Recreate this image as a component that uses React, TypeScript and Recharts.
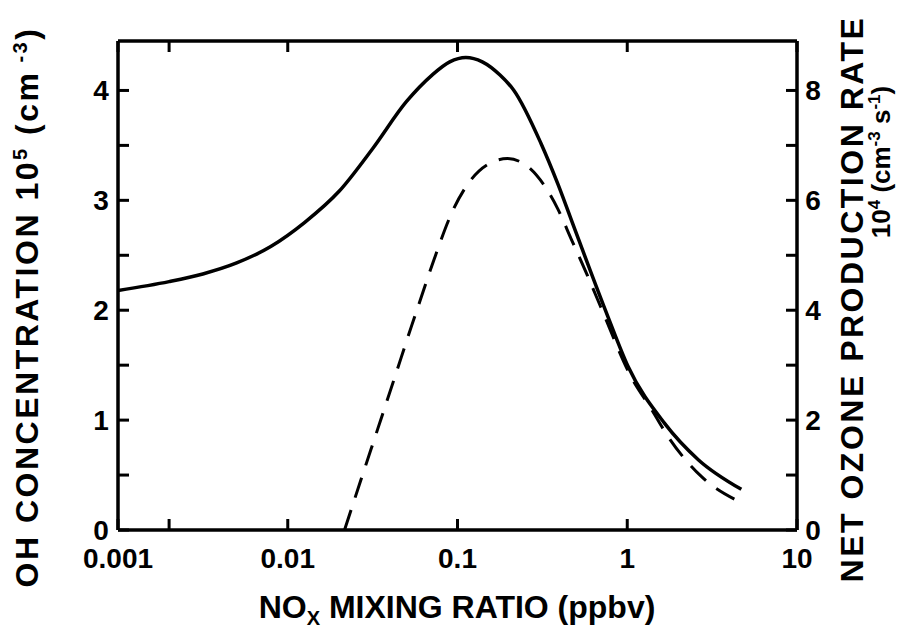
import React from 'react';
import { LineChart, Line, XAxis, YAxis } from 'recharts';

// OH concentration (left axis, 10^5 cm^-3) vs NOx mixing ratio (ppbv)
const ohNox = [0.001, 0.002, 0.00316, 0.005, 0.00794, 0.0126, 0.02, 0.0316, 0.0501, 0.0708, 0.09, 0.112, 0.14, 0.178, 0.215, 0.31, 0.39, 0.49, 0.77, 1.01, 1.66, 2.62, 4.7];
const ohConc = [2.18, 2.26, 2.33, 2.43, 2.58, 2.8, 3.08, 3.47, 3.9, 4.14, 4.26, 4.3, 4.26, 4.14, 4.0, 3.52, 3.15, 2.74, 1.94, 1.49, 0.97, 0.64, 0.37];

// net ozone production rate (right axis, 10^4 cm^-3 s^-1)
const o3Nox = [0.0216, 0.0269, 0.0339, 0.0427, 0.0537, 0.0603, 0.0725, 0.095, 0.114, 0.15, 0.197, 0.258, 0.339, 0.389, 0.467, 0.585, 0.7, 1.057, 1.387, 1.74, 2.74, 4.6];
const o3Rate = [0, 0.9, 1.84, 2.78, 3.72, 4.18, 4.91, 5.85, 6.28, 6.65, 6.76, 6.62, 6.18, 5.85, 5.3, 4.62, 4.05, 2.78, 2.2, 1.7, 0.97, 0.51];

const xTicks = [0.001, 0.002, 0.01, 0.1, 1, 10];
const xTickText = ['0.001', '', '0.01', '0.1', '1', '10'];
const leftTicks = [0, 0.5, 1, 1.5, 2, 2.5, 3, 3.5, 4];
const leftTickText = ['0', '', '1', '', '2', '', '3', '', '4'];
const rightTicks = [0, 1, 2, 3, 4, 5, 6, 7, 8];
const rightTickText = ['0', '', '2', '', '4', '', '6', '', '8'];

const ohData = ohNox.map((x, i) => ({ x, y: ohConc[i] }));
const o3Data = o3Nox.map((x, i) => ({ x, y: o3Rate[i] }));

const FONT = '"Liberation Sans", Arial, sans-serif';
const TICK = 11;

// negative tickSize turns the tick lines inward; tickMargin = TICK puts the label anchor back on the axis
const BottomTick = ({ x, y, payload }: any) => {
  const i = xTicks.indexOf(payload.value);
  if (!xTickText[i]) return <g />;
  return (
    <text x={x} y={Number(y) + 38} textAnchor="middle" fontFamily={FONT} fontWeight="bold" fontSize={28} fill="#000">
      {xTickText[i]}
    </text>
  );
};

const TopTick = () => <g />;

const LeftTick = ({ x, y, payload }: any) => {
  const i = leftTicks.indexOf(payload.value);
  if (!leftTickText[i]) return <g />;
  return (
    <text x={Number(x) - 17} y={Number(y) + 10} textAnchor="middle" fontFamily={FONT} fontWeight="bold" fontSize={28} fill="#000">
      {leftTickText[i]}
    </text>
  );
};

const RightTick = ({ x, y, payload }: any) => {
  const i = rightTicks.indexOf(payload.value);
  if (!rightTickText[i]) return <g />;
  return (
    <text x={Number(x) + 16} y={Number(y) + 10} textAnchor="middle" fontFamily={FONT} fontWeight="bold" fontSize={28} fill="#000">
      {rightTickText[i]}
    </text>
  );
};

export default function App() {
  const axisLine = { stroke: '#000', strokeWidth: 3.5 };
  const tickLine = { stroke: '#000', strokeWidth: 3 };
  const titleStyle = { fontFamily: FONT, fontWeight: 'bold' as const, fill: '#000' };
  return (
    <div style={{ position: 'absolute', left: 0, top: 0, width: 920, height: 635, background: '#fff' }}>
      <LineChart width={920} height={635} margin={{ top: 40, right: 0, bottom: 0, left: 0 }}>
        <XAxis
          xAxisId="bottom"
          dataKey="x"
          type="number"
          scale="log"
          domain={[0.001, 10]}
          allowDataOverflow
          ticks={xTicks}
          interval={0}
          height={105}
          tickSize={-TICK}
          tickMargin={TICK}
          tickLine={tickLine}
          axisLine={axisLine}
          tick={<BottomTick />}
        />
        <XAxis
          xAxisId="top"
          orientation="top"
          dataKey="x"
          type="number"
          scale="log"
          domain={[0.001, 10]}
          allowDataOverflow
          ticks={xTicks}
          interval={0}
          height={1}
          tickSize={-TICK}
          tickMargin={TICK}
          tickLine={tickLine}
          axisLine={axisLine}
          tick={<TopTick />}
        />
        <YAxis
          yAxisId="left"
          type="number"
          domain={[0, 4.45]}
          allowDataOverflow
          ticks={leftTicks}
          interval={0}
          width={118}
          tickSize={-TICK}
          tickMargin={TICK}
          tickLine={tickLine}
          axisLine={axisLine}
          tick={<LeftTick />}
        />
        <YAxis
          yAxisId="right"
          orientation="right"
          type="number"
          domain={[0, 8.9]}
          allowDataOverflow
          ticks={rightTicks}
          interval={0}
          width={123}
          tickSize={-TICK}
          tickMargin={TICK}
          tickLine={tickLine}
          axisLine={axisLine}
          tick={<RightTick />}
        />
        <Line
          xAxisId="bottom"
          yAxisId="left"
          data={ohData}
          dataKey="y"
          type="monotone"
          stroke="#000"
          strokeWidth={3.5}
          dot={false}
          isAnimationActive={false}
        />
        <Line
          xAxisId="bottom"
          yAxisId="right"
          data={o3Data}
          dataKey="y"
          type="monotone"
          stroke="#000"
          strokeWidth={3}
          strokeDasharray="21 13"
          dot={false}
          isAnimationActive={false}
        />
      </LineChart>
      <svg width={920} height={635} style={{ position: 'absolute', left: 0, top: 0, pointerEvents: 'none' }}>
        <text x={38} y={307} transform="rotate(-90 38 307)" textAnchor="middle" fontSize={32} letterSpacing={2.5} style={titleStyle}>
          OH CONCENTRATION 10<tspan dy={-11} fontSize={20}>5</tspan>
          <tspan dy={11}> (cm</tspan>
          <tspan dy={-11} fontSize={20}> -3</tspan>
          <tspan dy={11}>)</tspan>
        </text>
        <text x={863} y={299} transform="rotate(-90 863 299)" textAnchor="middle" fontSize={32} letterSpacing={2.5} style={titleStyle}>
          NET OZONE PRODUCTION RATE
        </text>
        <text x={890} y={162} transform="rotate(-90 890 162)" textAnchor="middle" fontSize={26} style={titleStyle}>
          10<tspan dy={-10} fontSize={17}>4</tspan>
          <tspan dy={10}> (cm</tspan>
          <tspan dy={-10} fontSize={17}>-3</tspan>
          <tspan dy={10}> s</tspan>
          <tspan dy={-10} fontSize={17}>-1</tspan>
          <tspan dy={10}>)</tspan>
        </text>
        <text x={457} y={618} textAnchor="middle" fontSize={32} style={titleStyle}>
          NO<tspan dy={7} fontSize={20}>X</tspan>
          <tspan dy={-7}> MIXING RATIO (ppbv)</tspan>
        </text>
      </svg>
    </div>
  );
}
